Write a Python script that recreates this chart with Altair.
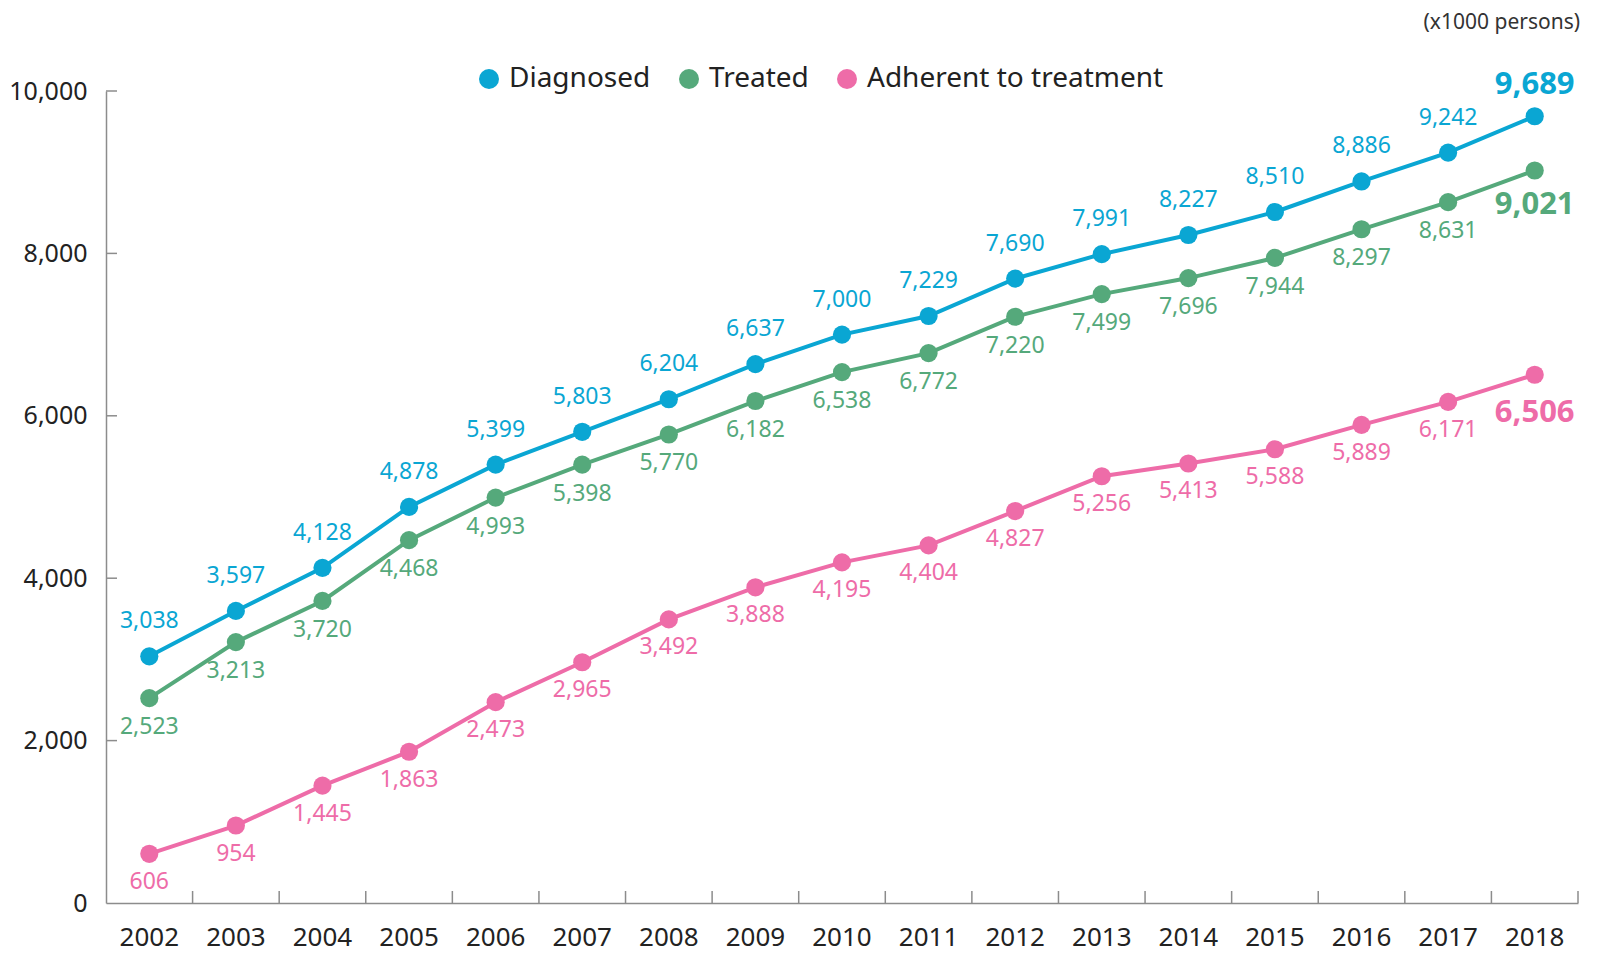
import altair as alt
import pandas as pd

years = [str(y) for y in range(2002, 2019)]
series = ["Diagnosed", "Treated", "Adherent to treatment"]
diagnosed = [3038, 3597, 4128, 4878, 5399, 5803, 6204, 6637, 7000, 7229, 7690, 7991, 8227, 8510, 8886, 9242, 9689]
treated = [2523, 3213, 3720, 4468, 4993, 5398, 5770, 6182, 6538, 6772, 7220, 7499, 7696, 7944, 8297, 8631, 9021]
adherent = [606, 954, 1445, 1863, 2473, 2965, 3492, 3888, 4195, 4404, 4827, 5256, 5413, 5588, 5889, 6171, 6506]
colors = ["#0aa6d3", "#55a97b", "#ee6ca8"]
y_ticks = [0, 2000, 4000, 6000, 8000, 10000]
unit_note = "(x1000 persons)"

FONT = "Noto Sans"
W, H = 1472, 812

rows = []
for name, vals in zip(series, [diagnosed, treated, adherent]):
    for i, (yr, v) in enumerate(zip(years, vals)):
        rows.append({"year": yr, "value": v, "series": name, "last": i == len(years) - 1})
df = pd.DataFrame(rows)

xscale = alt.Scale(type="band", domain=years, paddingInner=0, paddingOuter=0)
yscale = alt.Scale(domain=[0, 10000], nice=False)
cscale = alt.Scale(domain=series, range=colors)

x_axis = alt.Axis(ticks=False, labelAngle=0, labelFontSize=26, labelFont=FONT,
                  labelColor="#222222", labelPadding=21, domainColor="#8c8c8c",
                  domainWidth=1.5, grid=False, title=None)
y_axis = alt.Axis(values=y_ticks, labelExpr="format(datum.value, ',')", ticks=False,
                  labelFontSize=25, labelFont=FONT, labelColor="#222222", labelPadding=19,
                  domainColor="#8c8c8c", domainWidth=1.5, grid=False, title=None)
legend = alt.Legend(orient="none", legendX=369, legendY=-26,
                    direction="horizontal", title=None,
                    symbolType="circle", symbolSize=400,
                    symbolStrokeWidth=0, symbolOpacity=1,
                    labelFontSize=28, labelFont=FONT, labelLimit=0,
                    labelColor="#222222", labelOffset=6,
                    columnPadding=24)


def X(**kw):
    return alt.X("year:O", scale=xscale, axis=x_axis, title=None, **kw)


def Y():
    return alt.Y("value:Q", scale=yscale, axis=y_axis, title=None)


def C():
    return alt.Color("series:N", scale=cscale, legend=legend)


base = alt.Chart(df)

lines = base.mark_line(strokeWidth=4).encode(x=X(), y=Y(), color=C(), detail="series:N")
points = base.mark_circle(size=330, opacity=1).encode(x=X(), y=Y(), color=C())

label_specs = [("Diagnosed", -35, -31), ("Treated", 29, 35), ("Adherent to treatment", 28, 38)]
label_layers = []
for name, dy, dy_last in label_specs:
    col = colors[series.index(name)]
    sub = base.transform_filter(alt.datum.series == name)
    label_layers.append(
        sub.transform_filter(~alt.datum.last).mark_text(
            dy=dy, fontSize=23, font=FONT, color=col, baseline="middle"
        ).encode(x=X(), y=Y(), text=alt.Text("value:Q", format=","))
    )
    label_layers.append(
        sub.transform_filter(alt.datum.last).mark_text(
            dy=dy_last, fontSize=31, fontWeight="bold", font=FONT, color=col, baseline="middle"
        ).encode(x=X(), y=Y(), text=alt.Text("value:Q", format=","))
    )

# inward tick marks
ytick_df = pd.DataFrame({"value": y_ticks[1:]})
yticks = alt.Chart(ytick_df).mark_rule(color="#8c8c8c", strokeWidth=1.5).encode(
    y=Y(), x=alt.value(0), x2=alt.value(11)
)
xtick_df = pd.DataFrame({"year": years})
xticks = alt.Chart(xtick_df).mark_rule(color="#8c8c8c", strokeWidth=1.5).encode(
    x=X(bandPosition=1), y=alt.value(H), y2=alt.value(H - 12)
)

note = alt.Chart(pd.DataFrame({"t": [unit_note]})).mark_text(
    align="right", baseline="middle", fontSize=21, font=FONT, color="#333333"
).encode(text="t:N", x=alt.value(W + 2), y=alt.value(-68))

chart = alt.layer(lines, points, *label_layers, yticks, xticks, note).properties(
    width=W, height=H,
    autosize=alt.AutoSizeParams(type="none"),
    padding={"left": 98, "top": 83, "right": 12, "bottom": 55},
).configure_view(stroke=None)

chart.save("out.html", embed_options={"renderer": "svg", "actions": False})
